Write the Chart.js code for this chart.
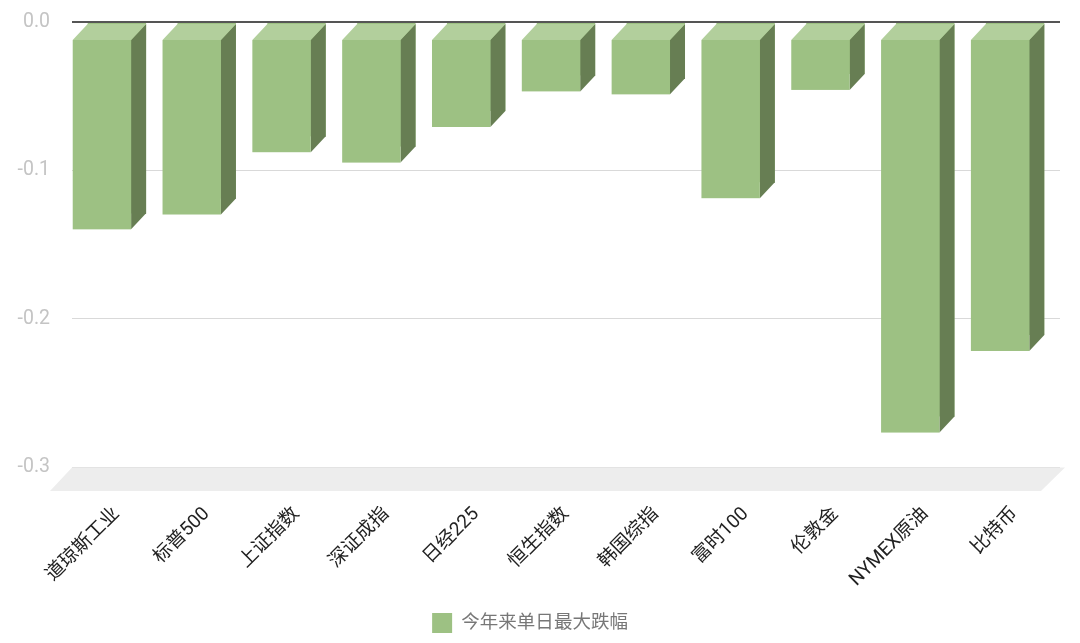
<!DOCTYPE html>
<html>
<head>
<meta charset="utf-8">
<script src="https://cdn.jsdelivr.net/npm/chart.js@4.4.1/dist/chart.umd.min.js"></script>
<style>
  html, body { margin: 0; padding: 0; background: #fff; }
  #wrap { width: 1080px; height: 643px; }
</style>
</head>
<body>
<div id="wrap"><canvas id="chart"></canvas></div>
<script>
const categories = ['道琼斯工业', '标普500', '上证指数', '深证成指', '日经225', '恒生指数', '韩国综指', '富时100', '伦敦金', 'NYMEX原油', '比特币'];
const maxDrop = [-0.129, -0.119, -0.077, -0.084, -0.060, -0.036, -0.038, -0.108, -0.035, -0.266, -0.211];
const seriesName = '今年来单日最大跌幅';
const yTicks = [0, -0.1, -0.2, -0.3];

const FONT = "Roboto, 'Noto Sans CJK SC', sans-serif";
const DX = 15, DY = 16; // 3d depth of bars
const FLOOR = 24;       // 3d depth of floor

// draws the grey floor and the 3d faces of each bar
const box3d = {
  id: 'box3d',
  beforeDatasetsDraw(chart) {
    const { ctx, chartArea: a } = chart;
    ctx.save();
    ctx.fillStyle = '#ededed';
    ctx.beginPath();
    ctx.moveTo(a.left, a.bottom + 0.5);
    ctx.lineTo(a.right + 5, a.bottom + 0.5);
    ctx.lineTo(a.right + 5 - FLOOR, a.bottom + FLOOR);
    ctx.lineTo(a.left - FLOOR + 2, a.bottom + FLOOR);
    ctx.closePath();
    ctx.fill();
    ctx.restore();
  },
  afterDatasetsDraw(chart) {
    const { ctx } = chart;
    const meta = chart.getDatasetMeta(0);
    ctx.save();
    meta.data.forEach(bar => {
      const p = bar.getProps(['x', 'y', 'base', 'width'], true);
      const x0 = p.x - p.width / 2, x1 = p.x + p.width / 2;
      const top = Math.min(p.y, p.base) + 1, bot = Math.max(p.y, p.base);
      const fx0 = x0 - DX, fx1 = x1 - DX, ft = top + DY, fb = bot + DY;
      // side
      ctx.fillStyle = '#677e53';
      ctx.beginPath();
      ctx.moveTo(fx1, ft); ctx.lineTo(x1, top); ctx.lineTo(x1, bot); ctx.lineTo(fx1, fb);
      ctx.closePath(); ctx.fill();
      // top
      ctx.fillStyle = '#b2cf9c';
      ctx.beginPath();
      ctx.moveTo(fx0, ft); ctx.lineTo(x0, top); ctx.lineTo(x1, top); ctx.lineTo(fx1, ft);
      ctx.closePath(); ctx.fill();
      // front
      ctx.fillStyle = '#9dc183';
      ctx.fillRect(fx0, ft, fx1 - fx0, fb - ft);
    });
    ctx.restore();
  }
};

const ctx = document.getElementById('chart').getContext('2d');
new Chart(ctx, {
  type: 'bar',
  data: {
    labels: categories,
    datasets: [{
      label: seriesName,
      data: maxDrop,
      backgroundColor: '#9dc183',
      borderWidth: 0,
      barPercentage: 0.65,
      categoryPercentage: 1.0
    }]
  },
  options: {
    responsive: true,
    maintainAspectRatio: false,
    animation: false,
    layout: { padding: { top: 22, right: 20, left: 0, bottom: 0 } },
    scales: {
      x: {
        grid: { display: false },
        border: { display: false },
        ticks: {
          minRotation: 45,
          maxRotation: 45,
          autoSkip: false,
          padding: 28,
          color: '#222',
          font: { family: FONT, size: 19 }
        },
        afterFit(scale) {
          scale.height = 136;
          scale.paddingLeft = 0; scale.paddingRight = 0;
          scale.paddingTop = 0; scale.paddingBottom = 0;
        }
      },
      y: {
        min: -0.3,
        max: 0,
        border: { display: false },
        grid: {
          drawTicks: false,
          color: c => c.tick && c.tick.value === 0 ? '#555' : '#d9d9d9',
          lineWidth: c => c.tick && c.tick.value === 0 ? 2 : 1
        },
        afterBuildTicks(scale) { scale.ticks = yTicks.map(v => ({ value: v })); },
        ticks: {
          padding: 22,
          color: '#c4c4c4',
          font: { family: FONT, size: 19.5 },
          callback: v => v.toFixed(1)
        },
        afterFit(scale) {
          scale.width = 72;
          scale.paddingTop = 0; scale.paddingBottom = 0;
        }
      }
    },
    plugins: {
      legend: {
        position: 'bottom',
        labels: {
          boxWidth: 20,
          boxHeight: 20,
          padding: 10,
          color: '#777',
          font: { family: FONT, size: 18.5 }
        }
      },
      tooltip: { enabled: false }
    }
  },
  plugins: [box3d]
});
</script>
</body>
</html>
